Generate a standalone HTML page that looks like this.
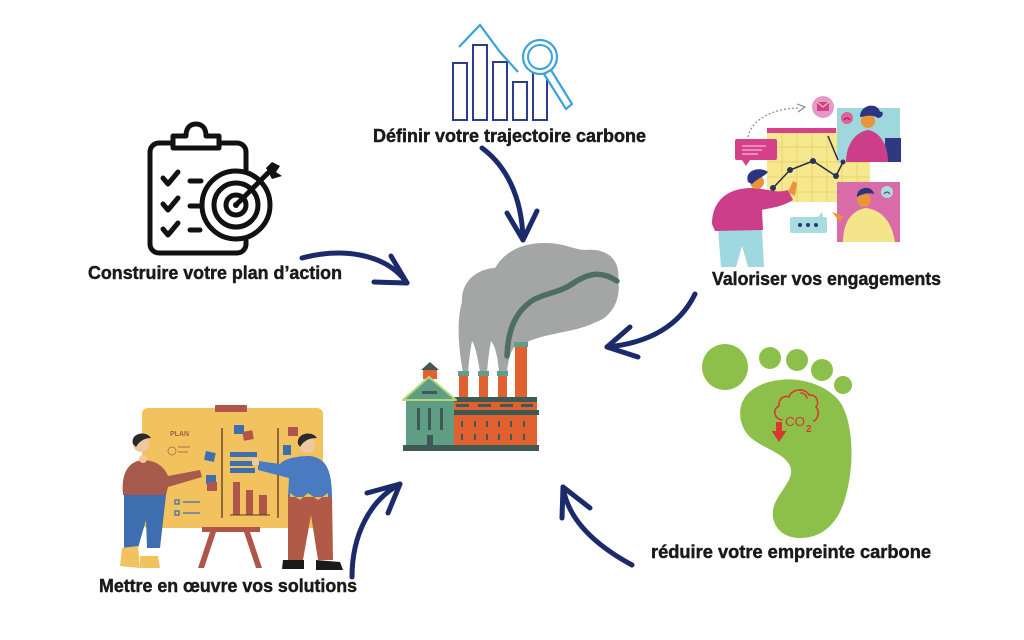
<!DOCTYPE html>
<html><head><meta charset="utf-8"><style>
html,body{margin:0;padding:0;background:#fff;}
svg{display:block;}
text{font-family:"Liberation Sans",sans-serif;font-weight:bold;fill:#1a1a1a;font-size:18px;}
.lbl{stroke:#1a1a1a;stroke-width:0.45px;}
</style></head><body>
<svg width="1024" height="640" viewBox="0 0 1024 640" xmlns="http://www.w3.org/2000/svg">
<rect width="1024" height="640" fill="#fff"/>

<!-- ===== Top chart icon ===== -->
<g fill="none" stroke="#2b3e8e" stroke-width="2">
<rect x="453" y="63" width="14" height="57"/>
<rect x="473" y="45" width="14" height="75"/>
<rect x="493" y="62" width="14" height="58"/>
<rect x="513" y="82" width="14" height="38"/>
<rect x="533" y="72" width="14" height="48"/>
</g>
<polyline points="459,47 480,25 500,52 518,72" fill="none" stroke="#3aa3dc" stroke-width="2.2"/>
<circle cx="540" cy="57" r="17" fill="#fff" stroke="#3aa3dc" stroke-width="2.2"/>
<circle cx="540" cy="57" r="12" fill="none" stroke="#3aa3dc" stroke-width="2"/>
<path d="M544,74 L551,70 L572,104 L566,109 Z" fill="#fff" stroke="#3aa3dc" stroke-width="2.2" stroke-linejoin="round"/>
<text class="lbl" x="373" y="142" textLength="273" lengthAdjust="spacingAndGlyphs">Définir votre trajectoire carbone</text>

<!-- ===== Clipboard icon ===== -->
<g fill="none" stroke="#111" stroke-width="5" stroke-linecap="round" stroke-linejoin="round">
<rect x="150" y="143" width="96" height="110" rx="9" fill="#fff"/>
<path d="M173,148 L173,136 L186,136 C186,128 190,124 196,124 C202,124 206,128 206,136 L219,136 L219,148 Z" fill="#fff"/>
<path d="M163,178 L168,184 L178,172"/>
<path d="M163,204 L168,210 L178,198"/>
<path d="M163,229 L168,235 L178,223"/>
<path d="M190,181 L201,181 M190,206 L199,206 M190,230 L200,230"/>
<circle cx="236" cy="205" r="34" fill="#fff"/>
<circle cx="236" cy="205" r="22"/>
<circle cx="236" cy="205" r="10"/>
<path d="M236,205 L268,173"/>
</g>
<circle cx="236" cy="205" r="3" fill="#111"/>
<path d="M266,168 L272,162 L280,166 L276,172 L282,176 L272,179 Z" fill="#111"/>
<text class="lbl" x="88" y="279" textLength="254" lengthAdjust="spacingAndGlyphs">Construire votre plan d’action</text>

<!-- ===== Top-right illustration ===== -->
<path d="M748,137 C752,118 775,108 800,108" fill="none" stroke="#888" stroke-width="1.2" stroke-dasharray="2,2"/>
<path d="M797,104 L805,107 L798,112" fill="none" stroke="#888" stroke-width="1.2"/>
<rect x="767" y="128" width="103" height="74" fill="#f6e88f"/>
<g stroke="#e6cc5e" stroke-width="0.8">
<line x1="782" y1="133" x2="782" y2="202"/><line x1="797" y1="133" x2="797" y2="202"/>
<line x1="812" y1="133" x2="812" y2="202"/><line x1="827" y1="133" x2="827" y2="202"/>
<line x1="842" y1="133" x2="842" y2="202"/><line x1="857" y1="133" x2="857" y2="202"/>
<line x1="767" y1="147" x2="870" y2="147"/><line x1="767" y1="162" x2="870" y2="162"/>
<line x1="767" y1="177" x2="870" y2="177"/><line x1="767" y1="192" x2="870" y2="192"/>
</g>
<rect x="767" y="128" width="69" height="5" fill="#d5408a"/>
<rect x="837" y="108" width="63" height="54" fill="#9fd8dc"/>
<rect x="885" y="138" width="16" height="24" fill="#2d3a82"/>
<path d="M846,162 C846,145 855,132 868,130 C880,132 888,145 888,162 Z" fill="#cc3d8a"/>
<circle cx="868" cy="121" r="7" fill="#e8943a"/>
<path d="M860,117 C860,104 878,102 880,112 C884,110 884,118 878,118 C872,114 866,116 860,117 Z" fill="#2b3480"/>
<circle cx="847" cy="118" r="6" fill="#e0609a"/>
<path d="M844,120 Q847,116 850,120" fill="none" stroke="#7a1f50" stroke-width="1"/>
<circle cx="823" cy="107" r="11" fill="#e39ac6"/>
<rect x="817" y="102" width="12" height="9" fill="#d5408a"/>
<path d="M817,102 L823,107 L829,102" fill="none" stroke="#f6e88f" stroke-width="1"/>
<rect x="837" y="182" width="63" height="60" fill="#d96ba8"/>
<circle cx="887" cy="192" r="6" fill="#a8dde0"/>
<path d="M884,194 Q887,190 890,194" fill="none" stroke="#7a1f50" stroke-width="1"/>
<path d="M843,242 C843,222 852,210 866,208 C882,210 892,222 895,242 Z" fill="#f5e58a"/>
<circle cx="864" cy="200" r="7" fill="#e8943a"/>
<path d="M857,197 C856,187 872,184 874,194 C868,192 862,194 857,197 Z" fill="#2b3480"/>
<path d="M843,216 L832,212 L840,222 Z" fill="#e8943a"/>
<polyline points="773,188 790,170 813,161 836,176 843,162" fill="none" stroke="#2b2b45" stroke-width="1.5"/>
<line x1="828" y1="136" x2="838" y2="160" stroke="#2b2b45" stroke-width="1.5"/>
<g fill="#2b3458"><circle cx="773" cy="188" r="3"/><circle cx="790" cy="170" r="3"/><circle cx="813" cy="161" r="3"/><circle cx="836" cy="176" r="3"/><circle cx="843" cy="162" r="2.5"/></g>
<rect x="735" y="139" width="42" height="21" rx="2" fill="#d5408a"/>
<path d="M742,160 L746,166 L750,160 Z" fill="#d5408a"/>
<g stroke="#f3b3d3" stroke-width="1.3"><line x1="742" y1="146" x2="766" y2="146"/><line x1="742" y1="150" x2="762" y2="150"/><line x1="742" y1="154" x2="758" y2="154"/></g>
<rect x="790" y="217" width="37" height="16" rx="2" fill="#a8dde0"/>
<path d="M818,217 L822,212 L823,217 Z" fill="#a8dde0"/>
<g fill="#2b3480"><circle cx="800" cy="225" r="2"/><circle cx="808" cy="225" r="2"/><circle cx="816" cy="225" r="2"/></g>
<path d="M718,228 L762,228 L764,267 L748,267 L742,246 L736,267 L721,267 Z" fill="#9fd8e0"/>
<path d="M712,224 C712,202 726,188 752,188 C764,188 776,194 788,190 L793,200 C780,208 768,208 762,210 L763,230 L715,231 Z" fill="#cc3d8a"/>
<path d="M788,192 L793,181 L797,183 L795,196 Z" fill="#e8943a"/>
<circle cx="757" cy="182" r="7" fill="#e8943a"/>
<path d="M748,182 C744,170 760,166 768,172 C765,176 758,178 752,184 Z" fill="#2b3480"/>
<text class="lbl" x="712" y="285" textLength="229" lengthAdjust="spacingAndGlyphs">Valoriser vos engagements</text>

<!-- ===== Factory ===== -->
<path d="M463,372 C459,352 456,322 462,302 C461,282 476,269 495,268 C505,251 522,243 545,243 C565,243 574,250 586,250 C606,248 621,259 618,280 C622,300 610,318 596,322 C581,330 560,332 541,337 C531,340 526,342 522,345 L515,346 C510,352 508,362 507,372 L499,372 C498,360 496,347 491,341 C489,351 488,361 487,372 L480,372 C478,360 476,347 472,341 C470,351 469,361 468,372 Z" fill="#a3a6a5"/>
<path d="M507,356 C508,330 515,312 533,300 C548,292 560,293 575,282 C588,274 600,270 617,281" fill="none" stroke="#4e6e63" stroke-width="5.5" stroke-linecap="round"/>
<g fill="#e0602f">
<rect x="459" y="375" width="9" height="24"/>
<rect x="479" y="375" width="9" height="24"/>
<rect x="498" y="375" width="9" height="24"/>
<rect x="515" y="346" width="12" height="53"/>
<rect x="450" y="399" width="87" height="47"/>
</g>
<g fill="#5e9e8a">
<rect x="458" y="371" width="11" height="5"/>
<rect x="478" y="371" width="11" height="5"/>
<rect x="497" y="371" width="11" height="5"/>
<rect x="514" y="342" width="14" height="5"/>
</g>
<g fill="#3d5a55">
<rect x="450" y="397" width="87" height="5"/>
<rect x="456" y="404" width="13" height="3"/><rect x="478" y="404" width="13" height="3"/><rect x="500" y="404" width="13" height="3"/><rect x="521" y="404" width="12" height="3"/>
<rect x="450" y="410" width="89" height="5"/>
<rect x="461" y="421" width="2" height="6"/><rect x="474" y="421" width="2" height="6"/><rect x="486" y="421" width="2" height="6"/><rect x="498" y="421" width="2" height="6"/><rect x="510" y="421" width="2" height="6"/><rect x="523" y="421" width="2" height="6"/>
<rect x="461" y="434" width="2" height="6"/><rect x="474" y="434" width="2" height="6"/><rect x="486" y="434" width="2" height="6"/><rect x="498" y="434" width="2" height="6"/><rect x="510" y="434" width="2" height="6"/><rect x="523" y="434" width="2" height="6"/>
</g>
<rect x="423" y="369" width="14" height="10" fill="#e0602f"/>
<path d="M421,370 L430,362 L439,370 Z" fill="#3d5a55"/>
<rect x="406" y="398" width="48" height="48" fill="#5f9e85"/>
<path d="M403,400 L429,377 L456,400 Z" fill="#5f9e85" stroke="#b6d67a" stroke-width="2" stroke-linejoin="round"/>
<g fill="#3d5a55">
<rect x="422" y="391" width="15" height="3"/>
<rect x="417" y="408" width="3" height="22"/><rect x="428" y="408" width="3" height="22"/><rect x="440" y="408" width="3" height="22"/>
<rect x="427" y="435" width="6" height="11"/>
<rect x="403" y="445" width="136" height="6"/>
</g>

<!-- ===== Footprint ===== -->
<g fill="#8dc04a">
<circle cx="725" cy="367" r="23"/>
<circle cx="770" cy="358" r="11"/>
<circle cx="797" cy="360" r="11"/>
<circle cx="822" cy="370" r="11"/>
<circle cx="843" cy="385" r="9"/>
<path d="M780,380 C800,377 830,385 842,405 C855,430 853,470 846,495 C840,520 825,538 800,538 C778,538 768,520 775,503 C782,488 795,478 790,466 C784,452 760,448 748,435 C736,420 738,400 752,390 C760,384 770,381 780,380 Z"/>
</g>
<g fill="none" stroke="#d63a2e" stroke-width="1.6" stroke-linecap="round">
<path d="M782,420 C774,419 772,409 779,406 C778,399 784,395 789,397 C791,389 805,387 809,395 C816,394 820,402 816,407 C820,411 818,419 814,421"/>
<path d="M801,393 C804,393 806,395 807,398"/>
</g>
<text x="785" y="426" style="font-size:13px;font-weight:normal;fill:#d63a2e;" textLength="20" lengthAdjust="spacingAndGlyphs">CO</text>
<text x="806" y="432" style="font-size:10px;font-weight:bold;fill:#d63a2e;">2</text>
<path d="M776,422 L782,422 L782,431 L786.5,431 L779,442 L771.5,431 L776,431 Z" fill="#d63a2e"/>
<text class="lbl" x="651" y="558" textLength="280" lengthAdjust="spacingAndGlyphs">réduire votre empreinte carbone</text>

<!-- ===== Bottom-left illustration ===== -->
<rect x="142" y="408" width="181" height="120" rx="6" fill="#f2c25f"/>
<rect x="215" y="405" width="32" height="7" rx="1" fill="#b0554a"/>
<g stroke="#5a3a20" stroke-width="1.3"><line x1="222" y1="428" x2="222" y2="518"/><line x1="278" y1="428" x2="278" y2="518"/></g>
<text x="170" y="436" style="font-size:7px;fill:#a06040;">PLAN</text>
<g stroke="#b07040" stroke-width="1"><line x1="178" y1="447" x2="190" y2="447"/><line x1="178" y1="452" x2="188" y2="452"/></g>
<circle cx="172" cy="451" r="4" fill="none" stroke="#b08040" stroke-width="1"/>
<g fill="#3d6eb0">
<rect x="205" y="452" width="10" height="9" transform="rotate(12 210 456)"/>
<rect x="206" y="475" width="10" height="9"/>
<rect x="234" y="425" width="10" height="9"/>
<rect x="230" y="452" width="27" height="5"/>
<rect x="230" y="461" width="23" height="5"/>
<rect x="230" y="468" width="25" height="5"/>
<rect x="283" y="445" width="8" height="10"/>
</g>
<g fill="#b0554a">
<rect x="243" y="431" width="10" height="9" transform="rotate(-10 248 435)"/>
<rect x="207" y="482" width="10" height="9"/>
<rect x="288" y="427" width="10" height="9"/>
<rect x="233" y="482" width="7" height="33"/>
<rect x="246" y="490" width="7" height="25"/>
<rect x="259" y="495" width="8" height="20"/>
</g>
<line x1="230" y1="515" x2="270" y2="515" stroke="#5a3a20" stroke-width="1"/>
<g stroke="#3d6eb0" stroke-width="1.3" fill="none">
<rect x="175" y="500" width="4" height="4"/><rect x="175" y="511" width="4" height="4"/>
<line x1="183" y1="502" x2="200" y2="502"/><line x1="183" y1="513" x2="200" y2="513"/>
</g>
<g fill="#b0554a">
<rect x="202" y="527" width="58" height="5"/>
<path d="M210,532 L216,532 L204,568 L198,568 Z"/>
<path d="M244,532 L250,532 L262,568 L256,568 Z"/>
</g>
<!-- left person -->
<path d="M124,495 L166,495 L160,548 L147,548 L146,520 L138,548 L124,548 Z" fill="#3d6eb0"/>
<path d="M122,548 L138,546 L140,568 L120,566 Z" fill="#f2c25f"/>
<path d="M140,556 L158,556 L160,568 L140,568 Z" fill="#f2c25f"/>
<path d="M123,495 C121,475 127,462 142,460 C155,460 164,466 168,476 L200,470 L202,477 L168,487 L166,495 Z" fill="#a65a4c"/>
<circle cx="141" cy="444" r="8" fill="#f0c8a0"/>
<path d="M133,444 C130,433 146,430 151,438 C146,438 140,440 136,447 Z" fill="#2a2a2a"/>
<circle cx="143" cy="459" r="4" fill="#f0c8a0"/>
<!-- right person -->
<path d="M288,495 L332,495 L333,560 L318,560 L311,515 L303,560 L288,560 Z" fill="#b25a48"/>
<path d="M283,560 L304,560 L304,569 L282,569 Z" fill="#1a1a1a"/>
<path d="M316,560 L340,562 L343,570 L316,570 Z" fill="#1a1a1a"/>
<path d="M280,464 C285,458 298,456 310,456 C326,458 332,470 332,497 L288,497 L289,478 L258,470 L258,461 Z" fill="#4a7ac0"/>
<path d="M290,493 L300,500 L308,493 L318,500 L328,493 L328,497 L290,497 Z" fill="#e8c04a"/>
<circle cx="307" cy="445" r="8" fill="#f0c8a0"/>
<path d="M298,444 C296,433 312,430 317,438 C310,438 304,440 300,447 Z" fill="#2a2a2a"/>
<rect x="252" y="458" width="7" height="7" fill="#f0c8a0"/>
<text class="lbl" x="99" y="592" textLength="258" lengthAdjust="spacingAndGlyphs">Mettre en œuvre vos solutions</text>

<!-- ===== Arrows ===== -->
<g fill="none" stroke="#1b2a6b" stroke-width="5" stroke-linecap="round" stroke-linejoin="round">
<path d="M482,148 C505,165 522,195 523,240"/>
<path d="M507,213 L523,240 L537,211"/>
<path d="M302,258 C340,248 385,252 407,283"/>
<path d="M391,256 L407,283 L374,282"/>
<path d="M695,294 C680,325 650,343 607,347"/>
<path d="M630,327 L607,347 L638,357"/>
<path d="M632,565 C595,545 568,520 563,487"/>
<path d="M562,518 L563,487 L590,508"/>
<path d="M352,577 C352,535 370,500 400,484"/>
<path d="M367,493 L400,484 L388,513"/>
</g>
</svg>
</body></html>
